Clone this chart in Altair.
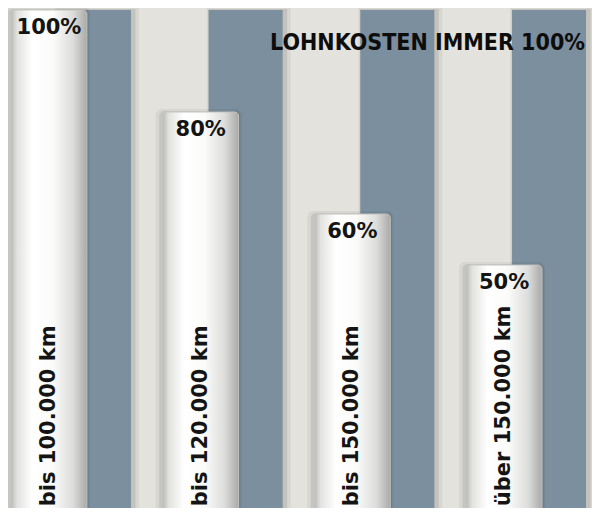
import altair as alt
import pandas as pd

categories = ["bis 100.000 km", "bis 120.000 km", "bis 150.000 km", "über 150.000 km"]
shares = [100, 80, 60, 50]
share_labels = ["100%", "80%", "60%", "50%"]
lohnkosten = [100, 100, 100, 100]
title_text = "LOHNKOSTEN IMMER 100%"

df = pd.DataFrame({
    "cat": categories,
    "share": shares,
    "label": share_labels,
    "lohn": lohnkosten,
})

BG = "#e4e2dc"
BLUE = "#7b8f9e"

xenc = alt.X("cat:N", sort=categories, axis=None,
             scale=alt.Scale(range=[0, 537], paddingInner=0.5, paddingOuter=0.02))
yscale = alt.Scale(domain=[2.35, 100.39], nice=False, zero=False)

base = alt.Chart(df).encode(x=xenc)

# soft shadows behind blue bars
blue_shadow1 = base.mark_bar(width=84, xOffset=48, yOffset=-2, color="#000000", opacity=0.05).encode(
    y=alt.Y("lohn:Q", axis=None, scale=yscale), y2=alt.datum(0))
blue_shadow2 = base.mark_bar(width=79, xOffset=47, yOffset=-1, color="#000000", opacity=0.09).encode(
    y=alt.Y("lohn:Q", axis=None, scale=yscale), y2=alt.datum(0))

blue = base.mark_bar(width=74, xOffset=45, color=BLUE).encode(
    y=alt.Y("lohn:Q", axis=None, scale=yscale), y2=alt.datum(0))

white_shadow1 = base.mark_bar(width=86, xOffset=-2, yOffset=-3, color="#000000", opacity=0.05,
                              cornerRadiusTopLeft=6, cornerRadiusTopRight=6).encode(
    y=alt.Y("share:Q", axis=None, scale=yscale), y2=alt.datum(0))
white_shadow2 = base.mark_bar(width=81, xOffset=-1, yOffset=-1, color="#000000", opacity=0.08,
                              cornerRadiusTopLeft=5, cornerRadiusTopRight=5).encode(
    y=alt.Y("share:Q", axis=None, scale=yscale), y2=alt.datum(0))

cylinder = alt.Gradient(
    gradient="linear", x1=0, x2=1, y1=0, y2=0,
    stops=[
        alt.GradientStop(offset=0.0, color="#b9b9b7"),
        alt.GradientStop(offset=0.08, color="#e2e2e0"),
        alt.GradientStop(offset=0.28, color="#ffffff"),
        alt.GradientStop(offset=0.55, color="#fbfbfa"),
        alt.GradientStop(offset=0.82, color="#dcdcda"),
        alt.GradientStop(offset=1.0, color="#a9a9a7"),
    ],
)

white = base.mark_bar(fill=cylinder, stroke="#c4c4c0", strokeWidth=1,
                      cornerRadiusTopLeft=4, cornerRadiusTopRight=4).encode(
    y=alt.Y("share:Q", axis=None, scale=yscale), y2=alt.datum(0))

pct = base.mark_text(font="DejaVu Sans", fontWeight="bold", fontSize=21, color="#141414",
                     baseline="middle", align="center", dy=18).encode(
    y=alt.Y("share:Q", axis=None, scale=yscale), text="label:N")

cat_text = base.mark_text(font="DejaVu Sans", fontWeight="bold", fontSize=21, color="#141414",
                          angle=270, align="left", baseline="middle").encode(
    y=alt.datum(2.7), text="cat:N")

chart = alt.layer(
    blue_shadow1, blue_shadow2, blue, white_shadow1, white_shadow2, white, pct, cat_text
).properties(
    width=584, height=500,
    autosize=alt.AutoSizeParams(type="none"),
    padding=0,
    background=BG,
    title=alt.TitleParams(title_text, anchor="end", font="DejaVu Sans Condensed",
                          fontSize=23, fontWeight="bold", color="#0d0d0d", dy=52, dx=-9),
).configure_view(stroke=None)

chart.save("out.html", embed_options={"renderer": "svg", "actions": False})
